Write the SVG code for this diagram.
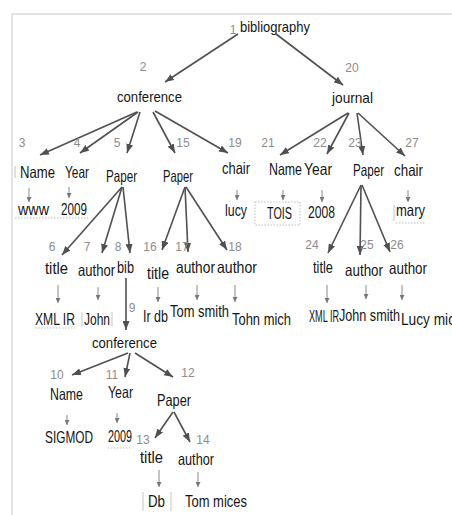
<svg xmlns="http://www.w3.org/2000/svg" width="452" height="515" viewBox="0 0 452 515">
  <defs>
    <marker id="ah" markerWidth="9" markerHeight="7" refX="9" refY="3.5" orient="auto" markerUnits="userSpaceOnUse">
      <path d="M0,0 L9,3.5 L0,7 z" fill="#505050"/>
    </marker>
    <marker id="sh" markerWidth="5" markerHeight="5" refX="5" refY="2.5" orient="auto" markerUnits="userSpaceOnUse">
      <path d="M0,0 L5,2.5 L0,5 z" fill="#777"/>
    </marker>
    <style>
      text { font-family: "Liberation Sans", Arial, sans-serif; }
      .lbl { font-size: 16.5px; fill: #151515; }
      .top { font-size: 15px; fill: #151515; }
      .num { font-size: 12px; fill: #8c8c8c; text-anchor: middle; }
      .edge { stroke: #505050; stroke-width: 1.6; fill: none; marker-end: url(#ah); }
      .link { stroke: #888; stroke-width: 1; fill: none; marker-end: url(#sh); }
      .frame { stroke: #dcdcdc; stroke-width: 1.5; fill: none; }
      .faint { stroke: #c4c4c4; stroke-width: 1; fill: none; }
      .dots { stroke: #bdbdbd; stroke-width: 1; stroke-dasharray: 1.5 1.5; fill: none; }
    </style>
  </defs>

  <rect width="452" height="515" fill="#ffffff"/>
  <!-- outer frame: top and left edges only -->
  <path class="frame" d="M12,515 V14 H452"/>

  <!-- connectors -->
  <g id="connectors">
    <line class="edge" x1="238" y1="34" x2="165" y2="82"/>
    <line class="edge" x1="276" y1="34" x2="343" y2="85"/>
    <line class="edge" x1="137" y1="112" x2="40" y2="155"/>
    <line class="edge" x1="138" y1="112" x2="80" y2="153"/>
    <line class="edge" x1="140" y1="112" x2="127" y2="153"/>
    <line class="edge" x1="153" y1="112" x2="175" y2="153"/>
    <line class="edge" x1="155" y1="111" x2="228" y2="153"/>
    <line class="edge" x1="348" y1="113" x2="280" y2="155"/>
    <line class="edge" x1="349" y1="113" x2="327" y2="154"/>
    <line class="edge" x1="357" y1="113" x2="363" y2="155"/>
    <line class="edge" x1="358" y1="113" x2="405" y2="156"/>
    <line class="edge" x1="122" y1="187" x2="62" y2="255"/>
    <line class="edge" x1="122" y1="187" x2="102" y2="253"/>
    <line class="edge" x1="123" y1="187" x2="130" y2="253"/>
    <line class="edge" x1="185" y1="187" x2="162" y2="250"/>
    <line class="edge" x1="185" y1="187" x2="188" y2="252"/>
    <line class="edge" x1="186" y1="187" x2="227" y2="250"/>
    <line class="edge" x1="361" y1="185" x2="328" y2="253"/>
    <line class="edge" x1="361" y1="185" x2="360" y2="255"/>
    <line class="edge" x1="362" y1="185" x2="390" y2="252"/>
    <line class="edge" x1="126" y1="278" x2="126" y2="330"/>
    <line class="edge" x1="128" y1="353" x2="72" y2="375"/>
    <line class="edge" x1="130" y1="353" x2="125" y2="377"/>
    <line class="edge" x1="135" y1="353" x2="173" y2="377"/>
    <line class="edge" x1="173" y1="412" x2="155" y2="438"/>
    <line class="edge" x1="174" y1="412" x2="190" y2="442"/>

    <!-- value links -->
    <line class="link" x1="29" y1="188" x2="29" y2="202"/>
    <line class="link" x1="69" y1="187" x2="69" y2="198"/>
    <line class="link" x1="237" y1="190" x2="237" y2="200"/>
    <line class="link" x1="283" y1="190" x2="283" y2="200"/>
    <line class="link" x1="322" y1="190" x2="322" y2="202"/>
    <line class="link" x1="408" y1="190" x2="408" y2="202"/>
    <line class="link" x1="58" y1="285" x2="58" y2="303"/>
    <line class="link" x1="98" y1="287" x2="98" y2="300"/>
    <line class="link" x1="158" y1="287" x2="158" y2="302"/>
    <line class="link" x1="197" y1="285" x2="197" y2="300"/>
    <line class="link" x1="235" y1="285" x2="235" y2="302"/>
    <line class="link" x1="327" y1="285" x2="327" y2="303"/>
    <line class="link" x1="366" y1="285" x2="366" y2="299"/>
    <line class="link" x1="402" y1="285" x2="402" y2="300"/>
    <line class="link" x1="67" y1="415" x2="67" y2="425"/>
    <line class="link" x1="117" y1="413" x2="117" y2="423"/>
    <line class="link" x1="159" y1="470" x2="159" y2="487"/>
    <line class="link" x1="198" y1="472" x2="198" y2="487"/>
  </g>

  <!-- element nodes -->
  <g id="n1"><text class="num" x="233" y="34">1</text><text class="top" x="240" y="32" textLength="70" lengthAdjust="spacingAndGlyphs">bibliography</text></g>
  <g id="n2"><text class="num" x="143" y="71">2</text><text class="top" x="117" y="102" textLength="65" lengthAdjust="spacingAndGlyphs">conference</text></g>
  <g id="n20"><text class="num" x="352" y="72">20</text><text class="top" x="332" y="103" textLength="41" lengthAdjust="spacingAndGlyphs">journal</text></g>

  <g id="n3"><text class="num" x="22" y="147">3</text><text class="lbl" x="20" y="178" textLength="35" lengthAdjust="spacingAndGlyphs">Name</text><line class="faint" x1="15" y1="166" x2="15" y2="178"/></g>
  <g id="n4"><text class="num" x="77" y="147">4</text><text class="lbl" x="65" y="178" textLength="24" lengthAdjust="spacingAndGlyphs">Year</text></g>
  <g id="n5"><text class="num" x="117" y="147">5</text><text class="lbl" x="106" y="182" textLength="31" lengthAdjust="spacingAndGlyphs">Paper</text></g>
  <g id="n15"><text class="num" x="183" y="147">15</text><text class="lbl" x="163" y="182" textLength="30" lengthAdjust="spacingAndGlyphs">Paper</text></g>
  <g id="n19"><text class="num" x="235" y="147">19</text><text class="lbl" x="222" y="174" textLength="28" lengthAdjust="spacingAndGlyphs">chair</text></g>
  <g id="n21"><text class="num" x="268" y="147">21</text><text class="lbl" x="269" y="175" textLength="33" lengthAdjust="spacingAndGlyphs">Name</text></g>
  <g id="n22"><text class="num" x="320" y="147">22</text><text class="lbl" x="304" y="175" textLength="28" lengthAdjust="spacingAndGlyphs">Year</text></g>
  <g id="n23"><text class="num" x="355" y="147">23</text><text class="lbl" x="353" y="176" textLength="31" lengthAdjust="spacingAndGlyphs">Paper</text></g>
  <g id="n27"><text class="num" x="412" y="147">27</text><text class="lbl" x="394" y="176" textLength="29" lengthAdjust="spacingAndGlyphs">chair</text></g>

  <g id="n6"><text class="num" x="52" y="251">6</text><text class="lbl" x="45" y="274" textLength="23" lengthAdjust="spacingAndGlyphs">title</text></g>
  <g id="n7"><text class="num" x="87" y="251">7</text><text class="lbl" x="78" y="276" textLength="37" lengthAdjust="spacingAndGlyphs">author</text></g>
  <g id="n8"><text class="num" x="118" y="251">8</text><text class="lbl" x="117" y="273" textLength="17" lengthAdjust="spacingAndGlyphs" fill="#444">bib</text></g>
  <g id="n16"><text class="num" x="150" y="251">16</text><text class="lbl" x="147" y="279" textLength="22" lengthAdjust="spacingAndGlyphs">title</text></g>
  <g id="n17"><text class="num" x="182" y="251">17</text><text class="lbl" x="176" y="273" textLength="39" lengthAdjust="spacingAndGlyphs">author</text></g>
  <g id="n18"><text class="num" x="235" y="251">18</text><text class="lbl" x="217" y="273" textLength="40" lengthAdjust="spacingAndGlyphs">author</text></g>
  <g id="n24"><text class="num" x="312" y="249">24</text><text class="lbl" x="313" y="273" textLength="20" lengthAdjust="spacingAndGlyphs">title</text></g>
  <g id="n25"><text class="num" x="367" y="249">25</text><text class="lbl" x="345" y="276" textLength="38" lengthAdjust="spacingAndGlyphs">author</text></g>
  <g id="n26"><text class="num" x="397" y="249">26</text><text class="lbl" x="389" y="274" textLength="38" lengthAdjust="spacingAndGlyphs">author</text></g>

  <g id="n9"><text class="num" x="132" y="312">9</text><text class="top" x="92" y="348" textLength="65" lengthAdjust="spacingAndGlyphs">conference</text></g>
  <g id="n10"><text class="num" x="57" y="379">10</text><text class="lbl" x="50" y="400" textLength="33" lengthAdjust="spacingAndGlyphs">Name</text></g>
  <g id="n11"><text class="num" x="112" y="379">11</text><text class="lbl" x="108" y="398" textLength="25" lengthAdjust="spacingAndGlyphs">Year</text></g>
  <g id="n12"><text class="num" x="188" y="377">12</text><text class="lbl" x="157" y="406" textLength="34" lengthAdjust="spacingAndGlyphs">Paper</text></g>
  <g id="n13"><text class="num" x="143" y="444">13</text><text class="lbl" x="140" y="463" textLength="23" lengthAdjust="spacingAndGlyphs">title</text></g>
  <g id="n14"><text class="num" x="203" y="444">14</text><text class="lbl" x="178" y="465" textLength="36" lengthAdjust="spacingAndGlyphs">author</text></g>

  <!-- value nodes -->
  <g id="v3"><text class="lbl" x="18" y="215" textLength="31" lengthAdjust="spacingAndGlyphs">www</text><line class="dots" x1="15" y1="218" x2="88" y2="218"/></g>
  <g id="v4"><text class="lbl" x="61" y="215" textLength="26" lengthAdjust="spacingAndGlyphs">2009</text></g>
  <g id="v19"><text class="lbl" x="225" y="216" textLength="22" lengthAdjust="spacingAndGlyphs">lucy</text></g>
  <g id="v21"><rect class="dots" x="255" y="202" width="45" height="23"/><text class="lbl" x="267" y="219" textLength="25" lengthAdjust="spacingAndGlyphs">TOIS</text></g>
  <g id="v22"><text class="lbl" x="308" y="218" textLength="27" lengthAdjust="spacingAndGlyphs">2008</text></g>
  <g id="v27"><line class="faint" x1="394" y1="205" x2="394" y2="221"/><text class="lbl" x="396" y="216" textLength="29" lengthAdjust="spacingAndGlyphs">mary</text><line class="dots" x1="396" y1="223" x2="425" y2="223"/></g>

  <g id="v6"><text class="lbl" x="35" y="325" textLength="40" lengthAdjust="spacingAndGlyphs">XML IR</text><line class="dots" x1="35" y1="328" x2="75" y2="328"/></g>
  <g id="v7"><line class="faint" x1="82" y1="312" x2="82" y2="326"/><text class="lbl" x="84" y="325" textLength="26" lengthAdjust="spacingAndGlyphs">John</text><line class="faint" x1="112" y1="312" x2="112" y2="326"/></g>
  <g id="v16"><text class="lbl" x="143" y="322" textLength="25" lengthAdjust="spacingAndGlyphs">Ir db</text></g>
  <g id="v17"><text class="lbl" x="170" y="317" textLength="59" lengthAdjust="spacingAndGlyphs">Tom smith</text></g>
  <g id="v18"><text class="lbl" x="232" y="325" textLength="59" lengthAdjust="spacingAndGlyphs">Tohn mich</text></g>
  <g id="v24"><text class="lbl" x="309" y="322" textLength="30" lengthAdjust="spacingAndGlyphs">XML IR</text></g>
  <g id="v25"><text class="lbl" x="339" y="321" textLength="61" lengthAdjust="spacingAndGlyphs">John smith</text></g>
  <g id="v26"><text class="lbl" x="401" y="325" textLength="54" lengthAdjust="spacingAndGlyphs">Lucy mic</text></g>

  <g id="v10"><text class="lbl" x="45" y="443" textLength="48" lengthAdjust="spacingAndGlyphs">SIGMOD</text></g>
  <g id="v11"><text class="lbl" x="108" y="442" textLength="24" lengthAdjust="spacingAndGlyphs">2009</text><line class="dots" x1="108" y1="448" x2="132" y2="448"/></g>
  <g id="v13"><line class="faint" x1="143" y1="492" x2="143" y2="511"/><text class="lbl" x="148" y="507" textLength="17" lengthAdjust="spacingAndGlyphs">Db</text><line class="faint" x1="171" y1="492" x2="171" y2="511"/></g>
  <g id="v14"><text class="lbl" x="185" y="507" textLength="62" lengthAdjust="spacingAndGlyphs">Tom mices</text></g>
</svg>
